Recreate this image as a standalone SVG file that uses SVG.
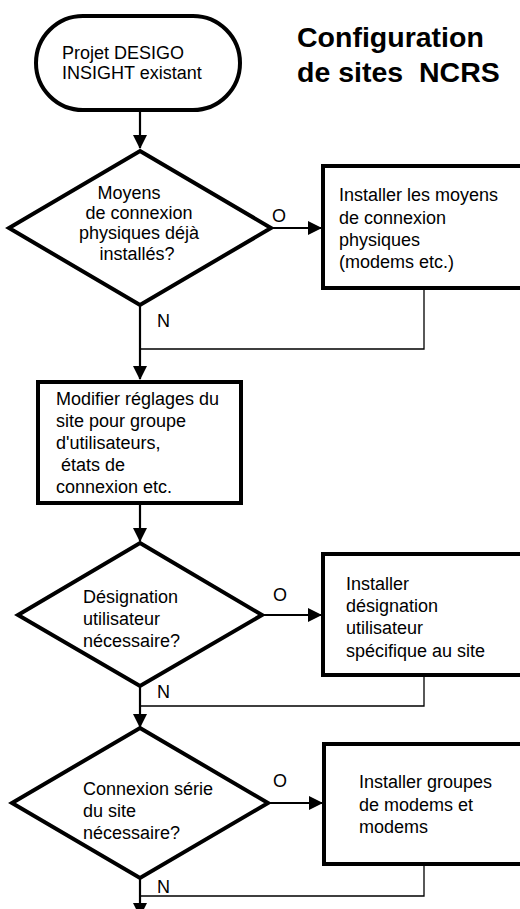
<svg xmlns="http://www.w3.org/2000/svg" width="520" height="909" viewBox="0 0 520 909">
  <defs>
    <marker id="arrow" markerWidth="14" markerHeight="14" refX="13" refY="7" orient="auto" markerUnits="userSpaceOnUse">
      <path d="M0,0 L14,7 L0,14 Z" fill="#000"/>
    </marker>
  </defs>
  <style>
    text { font-family: "Liberation Sans", Arial, sans-serif; font-size: 18px; fill: #000; }
    .title { font-size: 28.5px; font-weight: bold; }
    .shape { fill: #fff; stroke: #000; stroke-width: 4; stroke-linejoin: miter; }
    .flow { fill: none; stroke: #000; stroke-width: 2.2; }
    .back { fill: none; stroke: #000; stroke-width: 1.3; }
  </style>
  <rect width="520" height="909" fill="#fff"/>

  <!-- Title -->
  <g id="title">
    <text class="title" x="297" y="47">Configuration</text>
    <text class="title" x="297" y="82" xml:space="preserve">de sites  NCRS</text>
  </g>

  <!-- Connectors -->
  <g id="connectors">
    <line class="flow" x1="140" y1="110" x2="140" y2="148" marker-end="url(#arrow)"/>
    <line class="flow" x1="271" y1="228" x2="321" y2="228" marker-end="url(#arrow)"/>
    <polyline class="back" points="424,288 424,349 140,349"/>
    <line class="flow" x1="140" y1="305" x2="140" y2="379" marker-end="url(#arrow)"/>
    <line class="flow" x1="140" y1="503" x2="140" y2="541" marker-end="url(#arrow)"/>
    <line class="flow" x1="262" y1="615" x2="321" y2="615" marker-end="url(#arrow)"/>
    <polyline class="back" points="424,675 424,706 140,706"/>
    <line class="flow" x1="140" y1="686" x2="140" y2="727" marker-end="url(#arrow)"/>
    <line class="flow" x1="268" y1="803" x2="322" y2="803" marker-end="url(#arrow)"/>
    <polyline class="back" points="424,864 424,896 140,896"/>
    <line class="flow" x1="140" y1="878" x2="140" y2="916" marker-end="url(#arrow)"/>
    <text x="272" y="222">O</text>
    <text x="157" y="327">N</text>
    <text x="273" y="601">O</text>
    <text x="157" y="698">N</text>
    <text x="273" y="787">O</text>
    <text x="157" y="893">N</text>
  </g>

  <!-- Start -->
  <g id="start">
    <rect class="shape" x="36" y="16" width="204" height="94" rx="47" ry="47"/>
    <text x="62" y="59">Projet DESIGO</text>
    <text x="62" y="79">INSIGHT existant</text>
  </g>

  <!-- Decision: physical connection -->
  <g id="decision-physical">
    <polygon class="shape" points="140,151 271,228 140,305 9,228"/>
    <text x="129" y="199" text-anchor="middle">Moyens</text>
    <text x="139" y="219" text-anchor="middle">de connexion</text>
    <text x="139" y="239" text-anchor="middle">physiques déjà</text>
    <text x="137" y="260" text-anchor="middle">installés?</text>
  </g>

  <!-- Install physical connection -->
  <g id="install-physical">
    <rect class="shape" x="323" y="166" width="210" height="122"/>
    <text x="339" y="201">Installer les moyens</text>
    <text x="339" y="224">de connexion</text>
    <text x="339" y="246">physiques</text>
    <text x="339" y="268">(modems etc.)</text>
  </g>

  <!-- Modify site settings -->
  <g id="modify-settings">
    <rect class="shape" x="38" y="382" width="203" height="121"/>
    <text x="56" y="405">Modifier réglages du</text>
    <text x="56" y="427">site pour groupe</text>
    <text x="56" y="449">d'utilisateurs,</text>
    <text x="56" y="471" xml:space="preserve"> états de</text>
    <text x="56" y="493">connexion etc.</text>
  </g>

  <!-- Decision: user designation -->
  <g id="decision-designation">
    <polygon class="shape" points="140,543 262,615 140,686 18,615"/>
    <text x="83" y="603">Désignation</text>
    <text x="83" y="625">utilisateur</text>
    <text x="83" y="647">nécessaire?</text>
  </g>

  <!-- Install user designation -->
  <g id="install-designation">
    <rect class="shape" x="323" y="554" width="210" height="121"/>
    <text x="346" y="590">Installer</text>
    <text x="346" y="612">désignation</text>
    <text x="346" y="634">utilisateur</text>
    <text x="346" y="657">spécifique au site</text>
  </g>

  <!-- Decision: serial connection -->
  <g id="decision-serial">
    <polygon class="shape" points="140,728 268,803 140,878 12,803"/>
    <text x="83" y="795">Connexion série</text>
    <text x="83" y="817">du site</text>
    <text x="83" y="839">nécessaire?</text>
  </g>

  <!-- Install modem groups -->
  <g id="install-modems">
    <rect class="shape" x="324" y="744" width="210" height="120"/>
    <text x="359" y="788">Installer groupes</text>
    <text x="359" y="811">de modems et</text>
    <text x="359" y="833">modems</text>
  </g>
</svg>
